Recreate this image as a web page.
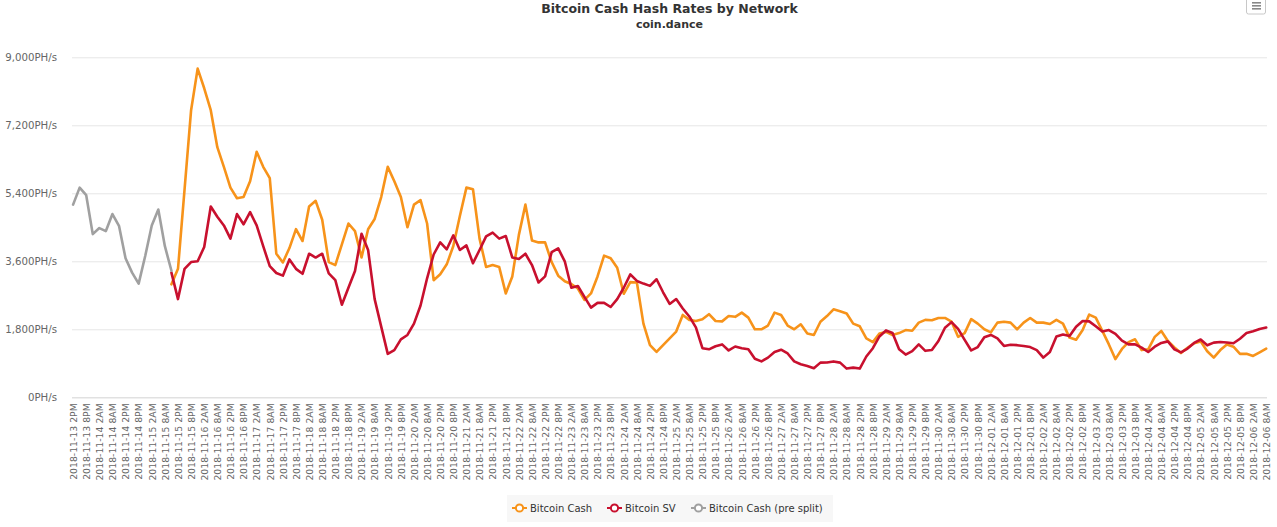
<!DOCTYPE html>
<html>
<head>
<meta charset="utf-8">
<script src="https://cdn.jsdelivr.net/npm/d3@7"></script>
<style>
  body { margin: 0; background: #fff; }
  svg { font-family: "DejaVu Sans", Verdana, sans-serif; }
</style>
</head>
<body>
<script>
// data, one value every 3 hours
var stepHours = 3;
var preSplitStart = new Date(2018, 10, 13, 14);
var splitStart = new Date(2018, 10, 15, 11);
var axisStart = new Date(2018, 10, 13, 14);
var axisEnd = new Date(2018, 11, 6, 8);
var labelCount = 92; // one label every 6 hours
var yTicks = [0, 1800, 3600, 5400, 7200, 9000];

var preSplitValues = [5100, 5550, 5350, 4320, 4480, 4400, 4850, 4540, 3680, 3300,
  3010, 3740, 4550, 4970, 4000, 3350];

var bchValues = [
  2990, 3400, 5500, 7600, 8700, 8180, 7600, 6620, 6100, 5550,
  5270, 5300, 5720, 6500, 6100, 5800, 3800, 3570, 3950, 4450,
  4137, 5050, 5200, 4700, 3580, 3500, 4050, 4600, 4400, 3700,
  4450, 4720, 5300, 6100, 5720, 5300, 4500, 5100, 5220, 4600,
  3100, 3255, 3520, 4005, 4800, 5550, 5506, 4200, 3450, 3500,
  3450, 2750, 3200, 4300, 5100, 4150, 4100, 4100, 3580, 3220,
  3070, 3000, 2880, 2580, 2750, 3200, 3750, 3680, 3430, 2740,
  3050, 3040, 1950, 1380, 1200, 1380, 1560, 1740, 2180, 2050,
  2020, 2065, 2200, 2020, 2010, 2150, 2130, 2242, 2109, 1800,
  1800, 1900, 2242, 2180, 1900, 1800, 1932, 1690, 1650, 2000,
  2150, 2330, 2280, 2220, 1950, 1880, 1560, 1460, 1690, 1730,
  1650, 1700, 1780, 1760, 1977, 2050, 2040, 2100, 2100, 2000,
  1600, 1700, 2070, 1950, 1800, 1720, 1977, 2000, 1977, 1800,
  1977, 2100, 1977, 1977, 1940, 2050, 1950, 1580, 1525, 1780,
  2190, 2109, 1760, 1400, 1010, 1280, 1460, 1535, 1250, 1270,
  1600, 1755, 1490, 1320, 1170, 1310, 1430, 1480, 1220, 1050,
  1250, 1400, 1340, 1150, 1150, 1094, 1190, 1290];

var bsvValues = [
  3300, 2600, 3400, 3580, 3600, 3980, 5050, 4780, 4550, 4200,
  4850, 4580, 4900, 4550, 4000, 3470, 3290, 3220, 3650, 3400,
  3270, 3800, 3700, 3800, 3280, 3100, 2450, 2900, 3343, 4330,
  3900, 2600, 1870, 1150, 1250, 1535, 1650, 1950, 2430, 3150,
  3780, 4100, 3918, 4288, 3900, 4020, 3550, 3900, 4260, 4360,
  4200, 4270, 3700, 3660, 3800, 3500, 3040, 3200, 3840, 3940,
  3600, 2900, 2946, 2660, 2374, 2500, 2500, 2390, 2600, 2900,
  3255, 3080, 3010, 2950, 3124, 2780, 2470, 2600, 2350, 2140,
  1850, 1300, 1270, 1350, 1400, 1240, 1345, 1300, 1270, 1020,
  950, 1050, 1200, 1260, 1160, 950, 874, 830, 770, 918,
  920, 950, 918, 760, 786, 760, 1080, 1300, 1610, 1770,
  1700, 1270, 1130, 1220, 1400, 1230, 1250, 1490, 1840, 1990,
  1810, 1520, 1240, 1330, 1590, 1650, 1560, 1360, 1390, 1380,
  1360, 1330, 1250, 1050, 1200, 1610, 1660, 1620, 1870, 2020,
  2010, 1880, 1740, 1780, 1680, 1500, 1400, 1400, 1315, 1200,
  1340, 1440, 1480, 1270, 1190, 1290, 1440, 1530, 1376, 1447,
  1464, 1450, 1430, 1550, 1700, 1750, 1810, 1845];

var seriesNames = ["Bitcoin Cash", "Bitcoin SV", "Bitcoin Cash (pre split)"];
var seriesColors = ["#f7931a", "#c8102e", "#a0a0a0"];

var width = 1277;
var height = 527;
var plotLeft = 72;
var plotRight = 1267;
var plotTop = 57.3;
var plotBottom = 397.3;

function toPoints(start, values) {
  return values.map(function(v, i) {
    return { t: d3.timeHour.offset(start, i * stepHours), v: v };
  });
}
var series = [
  toPoints(splitStart, bchValues),
  toPoints(splitStart, bsvValues),
  toPoints(preSplitStart, preSplitValues)
];
var xLabels = d3.range(labelCount).map(function(i) {
  return d3.timeHour.offset(axisStart, i * 6);
});

var svg = d3
  .select("body")
  .append("svg")
  .attr("width", width)
  .attr("height", height);

var xScale = d3
  .scaleTime()
  .domain([axisStart, axisEnd])
  .range([plotLeft + 1.1, plotRight - 0.8]);
var yScale = d3
  .scaleLinear()
  .domain([0, 9000])
  .range([plotBottom, plotTop]);

// title
svg
  .append("text")
  .attr("x", (plotLeft + plotRight) / 2)
  .attr("y", 13)
  .attr("text-anchor", "middle")
  .attr("font-size", 12.5)
  .attr("font-weight", "bold")
  .attr("fill", "#333")
  .text("Bitcoin Cash Hash Rates by Network");
svg
  .append("text")
  .attr("x", (plotLeft + plotRight) / 2)
  .attr("y", 27.5)
  .attr("text-anchor", "middle")
  .attr("font-size", 11)
  .attr("font-weight", "bold")
  .attr("fill", "#333")
  .text("coin.dance");

// menu button
svg
  .append("rect")
  .attr("x", 1246.5)
  .attr("y", -4)
  .attr("width", 19)
  .attr("height", 18)
  .attr("rx", 2)
  .attr("fill", "#fff")
  .attr("stroke", "#c8c8c8");
[2.8, 5.8, 8.8].forEach(function(y) {
  svg
    .append("line")
    .attr("x1", 1252)
    .attr("x2", 1261)
    .attr("y1", y)
    .attr("y2", y)
    .attr("stroke", "#888")
    .attr("stroke-width", 1.6);
});

// y grid + labels
var yAxis = svg
  .append("g")
  .attr("transform", "translate(" + plotLeft + ",0)")
  .call(
    d3
      .axisLeft(yScale)
      .tickValues(yTicks)
      .tickSize(-(plotRight - plotLeft))
      .tickPadding(15)
      .tickFormat(function(d) {
        return d3.format(",")(d) + "PH/s";
      })
  );
yAxis.select(".domain").remove();
yAxis.selectAll("line").attr("stroke", "#e6e6e6");
yAxis
  .selectAll("text")
  .attr("fill", "#666")
  .attr("font-size", 10.2)
  .attr("font-family", "DejaVu Sans, Verdana, sans-serif");

// x axis
var xAxis = svg
  .append("g")
  .attr("transform", "translate(0," + plotBottom + ")")
  .call(
    d3
      .axisBottom(xScale)
      .tickValues(xLabels)
      .tickSize(0)
      .tickFormat(d3.timeFormat("%Y-%m-%d %-I%p"))
  );
xAxis
  .select(".domain")
  .attr("d", "M" + plotLeft + ",0.5H" + plotRight)
  .attr("stroke", "#dcdcdc");
xAxis
  .selectAll("text")
  .attr("fill", "#666")
  .attr("font-size", 9.3)
  .attr("font-family", "DejaVu Sans, Verdana, sans-serif")
  .attr("text-anchor", "end")
  .attr("transform", "rotate(-90)")
  .attr("x", -6)
  .attr("y", 0)
  .attr("dy", "0.35em");

// lines
var line = d3
  .line()
  .x(function(d) { return xScale(d.t); })
  .y(function(d) { return yScale(d.v); });
svg
  .append("g")
  .selectAll("path")
  .data(series)
  .enter()
  .append("path")
  .attr("d", line)
  .attr("fill", "none")
  .attr("stroke", function(d, i) { return seriesColors[i]; })
  .attr("stroke-width", 2.6)
  .attr("stroke-linejoin", "round")
  .attr("stroke-linecap", "round");

// legend
svg
  .append("rect")
  .attr("x", 507)
  .attr("y", 495)
  .attr("width", 326)
  .attr("height", 27)
  .attr("fill", "#f7f7f7");
var legendX = [512, 607, 691];
var legend = svg
  .selectAll(".legend")
  .data(seriesNames)
  .enter()
  .append("g")
  .attr("class", "legend")
  .attr("transform", function(d, i) {
    return "translate(" + legendX[i] + ",508)";
  });
legend
  .append("line")
  .attr("x1", 0)
  .attr("x2", 15)
  .attr("stroke", function(d, i) { return seriesColors[i]; })
  .attr("stroke-width", 2);
legend
  .append("circle")
  .attr("cx", 7.5)
  .attr("r", 3.6)
  .attr("fill", "#fff")
  .attr("stroke", function(d, i) { return seriesColors[i]; })
  .attr("stroke-width", 2);
legend
  .append("text")
  .attr("x", 18)
  .attr("y", 3.6)
  .attr("font-size", 10)
  .attr("fill", "#333")
  .text(function(d) { return d; });
</script>
</body>
</html>
